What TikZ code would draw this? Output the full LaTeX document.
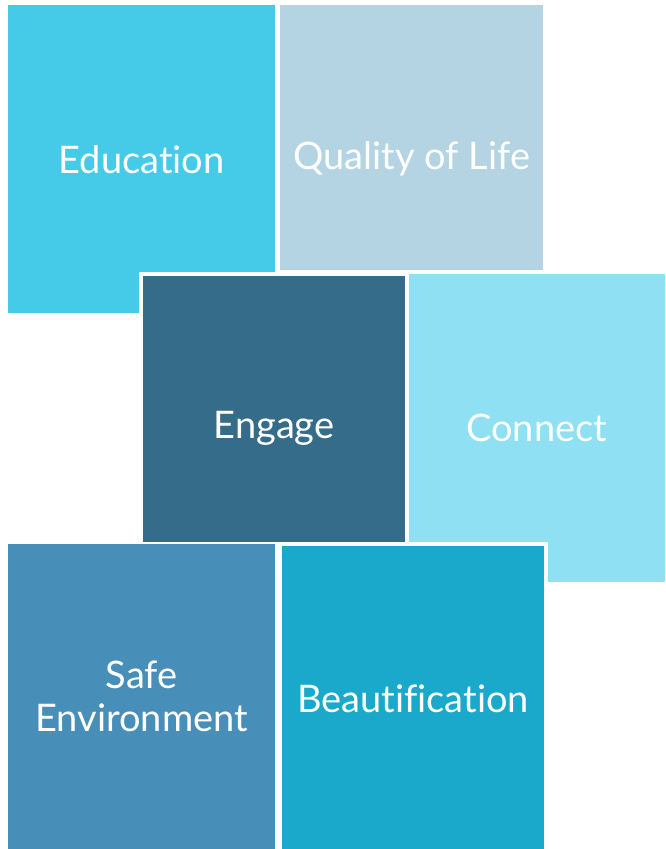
\documentclass[tikz,border=0pt]{standalone}
\usepackage{fontspec}
\setmainfont{Lato}[Ligatures=NoCommon]
\definecolor{cEdu}{HTML}{45CAE7}
\definecolor{cQol}{HTML}{B4D4E3}
\definecolor{cEng}{HTML}{356C89}
\definecolor{cCon}{HTML}{8EE0F2}
\definecolor{cSaf}{HTML}{478FB8}
\definecolor{cBea}{HTML}{1AA9CB}
\tikzset{
  tile/.style={anchor=north west, inner sep=0pt, draw=none, text=white, align=center,
    font=\fontsize{38}{43}\selectfont},
  framed/.style={tile, draw=white, line width=4pt},
  lbl/.style={inner sep=0pt, text=white, align=center, font=\fontsize{38}{43}\selectfont}
}
\begin{document}
\begin{tikzpicture}[x=1pt,y=-1pt]
\useasboundingbox[fill=white] (0,0) rectangle (665,849);
\node[tile, fill=cEdu, minimum width=267pt, minimum height=308pt] (edu) at (8,5) {Education};
\node[tile, fill=cQol, minimum width=263pt, minimum height=265pt] (qol) at (280,5) {};
\node[lbl] (qoltxt) at (edu.center -| qol.center) {Quality of Life};
\node[tile, fill=cCon, minimum width=257pt, minimum height=308pt] (con) at (408,274) {Connect};
\node[framed, fill=cEng, minimum width=266pt, minimum height=270pt] (eng) at (139,272) {};
\node[lbl] (engtxt) at (con.center -| eng.center) {Engage};
\node[tile, fill=cSaf, minimum width=267pt, minimum height=305pt] (saf) at (8,544) {Safe\\Environment};
\node[framed, fill=cBea, minimum width=266pt, minimum height=309pt] (bea) at (278,542) {Beautification};
\end{tikzpicture}
\end{document}
